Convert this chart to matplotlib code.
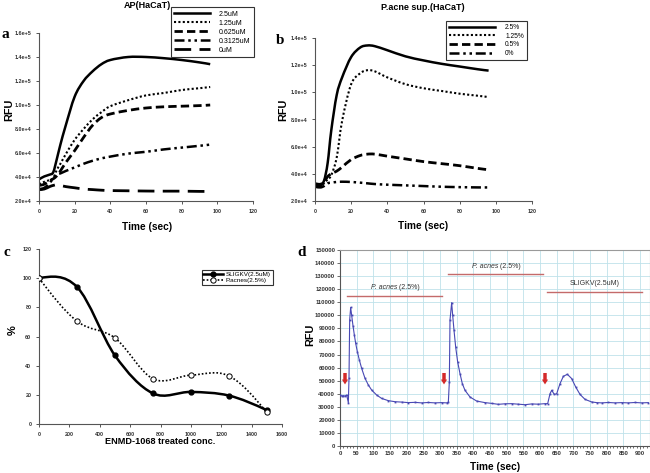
import numpy as np
import matplotlib
matplotlib.use('Agg')
import matplotlib.pyplot as plt
from matplotlib.path import Path
from matplotlib.patches import PathPatch
from matplotlib.lines import Line2D

plt.rcParams['font.family'] = ['Liberation Sans', 'DejaVu Sans']

# ---- panel a : AP(HaCaT) ----
a_time = [0, 3, 6, 8, 10, 12, 15, 20, 25, 30, 35, 40, 50, 60, 70, 80, 90, 96]
a_labels = ['2.5uM', '1.25uM', '0.625uM', '0.3125uM', '0uM']
a_25 = [3.8e4, 4.05e4, 4.2e4, 4.4e4, 5.5e4, 6.7e4, 8.3e4, 1.07e5, 1.2e5, 1.28e5, 1.34e5, 1.375e5,
        1.4e5, 1.4e5, 1.39e5, 1.375e5, 1.355e5, 1.34e5]
a_125 = [3.4e4, 3.6e4, 3.75e4, 3.9e4, 4.6e4, 5.1e4, 5.9e4, 7.1e4, 8.0e4, 8.8e4, 9.4e4, 9.9e4,
         1.04e5, 1.08e5, 1.1e5, 1.125e5, 1.14e5, 1.15e5]
a_0625 = [3.3e4, 3.4e4, 3.7e4, 3.85e4, 4.1e4, 4.5e4, 5.2e4, 6.2e4, 7.3e4, 8.3e4, 8.95e4, 9.25e4,
          9.55e4, 9.75e4, 9.85e4, 9.9e4, 9.95e4, 1.0e5]
a_03125 = [3.0e4, 3.1e4, 3.5e4, 3.9e4, 4.2e4, 4.3e4, 4.5e4, 4.8e4, 5.1e4, 5.35e4, 5.55e4, 5.7e4,
           5.95e4, 6.1e4, 6.3e4, 6.45e4, 6.6e4, 6.7e4]
a_0 = [2.95e4, 3.0e4, 3.2e4, 3.3e4, 3.35e4, 3.3e4, 3.2e4, 3.1e4, 3.0e4, 2.95e4, 2.9e4, 2.87e4,
       2.85e4, 2.83e4, 2.82e4, 2.82e4, 2.8e4, 2.8e4]

# ---- panel b : P.acne sup.(HaCaT) ----
b_time = [0, 3, 5, 7, 9, 12, 15, 20, 25, 29, 33, 40, 50, 60, 70, 80, 90, 96]
b_labels = ['2.5%', '1.25%', '0.5%', '0%']
b_25 = [3.3e4, 3.25e4, 3.5e4, 4.8e4, 7.2e4, 9.8e4, 1.11e5, 1.26e5, 1.33e5, 1.345e5, 1.34e5, 1.31e5,
        1.265e5, 1.235e5, 1.21e5, 1.19e5, 1.17e5, 1.16e5]
b_125 = [3.2e4, 3.1e4, 3.3e4, 3.6e4, 3.9e4, 5.2e4, 7.9e4, 1.06e5, 1.14e5, 1.163e5, 1.155e5, 1.11e5,
         1.06e5, 1.03e5, 1.01e5, 9.9e4, 9.75e4, 9.65e4]
b_05 = [3.2e4, 3.15e4, 3.4e4, 3.8e4, 4.0e4, 4.2e4, 4.5e4, 5.05e4, 5.35e4, 5.45e4, 5.45e4, 5.3e4,
        5.1e4, 4.9e4, 4.75e4, 4.6e4, 4.4e4, 4.3e4]
b_0 = [3.05e4, 3.0e4, 3.1e4, 3.3e4, 3.35e4, 3.4e4, 3.42e4, 3.4e4, 3.35e4, 3.3e4, 3.25e4, 3.2e4,
       3.15e4, 3.1e4, 3.05e4, 3.02e4, 3.0e4, 3.0e4]

# ---- panel c : ENMD-1068 ----
c_conc = [0, 250, 500, 750, 1000, 1250, 1500]
c_sligkv = [100, 94, 47, 21, 22, 19.5, 9.5]
c_pacnes = [100, 70.5, 59, 31, 33.5, 33, 8]

# ---- panel d : trace ----
d_time = [0, 5, 10, 15, 20, 25, 27, 29, 32, 35, 39, 43, 47, 52, 58, 65, 75, 85, 95, 110, 125, 145,
          165, 185, 205, 225, 245, 265, 285, 305, 320, 325, 328, 330, 335, 338, 342, 347, 353, 360,
          367, 375, 390, 410, 435, 455, 475, 495, 515, 535, 555, 575, 595, 615, 623, 630, 635, 643,
          650, 660, 670, 682, 695, 707, 720, 735, 755, 770, 785, 805, 825, 845, 865, 885, 905, 925]
d_rfu = [39000, 38300, 38500, 38200, 39000, 33200, 51800, 96400, 106000, 100000, 92000, 85000,
         78600, 72200, 65800, 59400, 51800, 46700, 42800, 39000, 36400, 34700, 33900, 33600, 33200,
         33400, 33000, 33300, 33000, 33200, 33000, 33500, 48900, 96400, 109700, 100000, 88600,
         75800, 64300, 55400, 47700, 42600, 37500, 34400, 33200, 32600, 31900, 32300, 32400, 32000,
         31600, 32200, 32000, 32400, 32400, 40000, 42600, 39500, 40000, 47700, 53300, 54900, 51600,
         45200, 39500, 35700, 33700, 33200, 33000, 33300, 33000, 33200, 33000, 33300, 33000, 33200]
d_arrow_t = [15, 312, 615]
d_bars = [(20, 307, 115000, 'P. acnes', ' (2.5%)'),
          (325, 610, 131500, 'P. acnes', ' (2.5%)'),
          (622, 907, 118000, '', 'SLIGKV(2.5uM)')]


def smooth_path(x, y):
    # Excel-like smoothed line: Catmull-Rom segments as cubic Beziers
    p = np.column_stack([x, y]).astype(float)
    n = len(p)
    verts = [p[0]]
    codes = [Path.MOVETO]
    for i in range(n - 1):
        prev = p[i - 1] if i > 0 else p[i]
        nxt = p[i + 2] if i + 2 < n else p[i + 1]
        c1 = p[i] + (p[i + 1] - prev) / 6
        c2 = p[i + 1] - (nxt - p[i]) / 6
        if i == 0:
            c1 = p[0] + (c2 - p[0]) / 2
        if i == n - 2:
            c2 = p[-1] + (c1 - p[-1]) / 2
        verts += [c1, c2, p[i + 1]]
        codes += [Path.CURVE4] * 3
    return Path(verts, codes)


def fx(px):
    return px / 650


def fy(py):
    return 1 - py / 473


def excel_axes(ax):
    for s in ['top', 'right']:
        ax.spines[s].set_visible(False)
    for s in ['left', 'bottom']:
        ax.spines[s].set_color('#555555')
        ax.spines[s].set_linewidth(0.8)
    ax.tick_params(labelsize=3.9, length=2.5, width=0.7, color='#555555', pad=3)
    for lab in ax.get_xticklabels() + ax.get_yticklabels():
        lab.set_fontweight('bold')
        lab.set_color('#333333')


def sci(v, pos):
    mant, ex = ('%.1e' % v).split('e')
    return '%se+%d' % (mant, int(ex))


fig = plt.figure(figsize=(6.5, 4.73), dpi=100)

styles_a = [dict(ls='-', lw=1.8), dict(ls=(0, (1, 1.1)), lw=1.5), dict(ls=(0, (3, 1.5)), lw=2.0),
            dict(ls=(0, (4, 1.5, 1, 1.5, 1, 1.5)), lw=1.8), dict(ls=(0, (6, 3)), lw=2.0)]
styles_b = [styles_a[0], styles_a[1], styles_a[2], styles_a[3]]

# panel a
ax_a = fig.add_axes([fx(39), fy(201), fx(253) - fx(39), fy(33) - fy(201)])
for vals, st in zip([a_25, a_125, a_0625, a_03125, a_0], styles_a):
    ax_a.add_patch(PathPatch(smooth_path(a_time, vals), facecolor='none', edgecolor='k',
                             linestyle=st['ls'], lw=st['lw']))
ax_a.set_xlim(0, 120)
ax_a.set_ylim(2e4, 1.6e5)
ax_a.set_xticks(range(0, 121, 20))
ax_a.set_yticks(np.arange(2e4, 1.61e5, 2e4))
ax_a.yaxis.set_major_formatter(plt.FuncFormatter(sci))
excel_axes(ax_a)
h = [Line2D([], [], color='k', linestyle=st['ls'], lw=st['lw']) for st in styles_a]
leg = ax_a.legend(h, a_labels, loc='upper right', bbox_to_anchor=(1.02, 1.175), fontsize=5,
                  fancybox=False, edgecolor='#333333', handlelength=5.2, labelspacing=0.3,
                  borderpad=0.5, handletextpad=1.2, framealpha=1)
leg.get_frame().set_linewidth(0.8)

# panel b
ax_b = fig.add_axes([fx(315), fy(201), fx(532) - fx(315), fy(38) - fy(201)])
for vals, st in zip([b_25, b_125, b_05, b_0], styles_b):
    ax_b.add_patch(PathPatch(smooth_path(b_time, vals), facecolor='none', edgecolor='k',
                             linestyle=st['ls'], lw=st['lw']))
ax_b.set_xlim(0, 120)
ax_b.set_ylim(2e4, 1.4e5)
ax_b.set_xticks(range(0, 121, 20))
ax_b.set_yticks(np.arange(2e4, 1.41e5, 2e4))
ax_b.yaxis.set_major_formatter(plt.FuncFormatter(sci))
excel_axes(ax_b)
h = [Line2D([], [], color='k', linestyle=st['ls'], lw=st['lw']) for st in styles_b]
leg = ax_b.legend(h, b_labels, loc='upper right', bbox_to_anchor=(0.992, 1.125), fontsize=4.8,
                  fancybox=False, edgecolor='#333333', handlelength=7.0, labelspacing=0.25,
                  borderpad=0.45, handletextpad=1.5, framealpha=1)
leg.get_frame().set_linewidth(0.8)

# panel c
ax_c = fig.add_axes([fx(39), fy(424), fx(282) - fx(39), fy(249) - fy(424)])
ax_c.add_patch(PathPatch(smooth_path(c_conc, c_sligkv), facecolor='none', edgecolor='k', lw=1.8))
ax_c.add_patch(PathPatch(smooth_path(c_conc, c_pacnes), facecolor='none', edgecolor='k', lw=1.2,
                         linestyle=(0, (1, 1.2))))
ax_c.plot(c_conc, c_sligkv, 'o', color='k', ms=3.5, zorder=3)
ax_c.plot(c_conc, c_pacnes, 'o', mfc='white', mec='k', mew=0.7, ms=3.8, zorder=3)
ax_c.set_xlim(0, 1600)
ax_c.set_ylim(0, 120)
ax_c.set_xticks(range(0, 1601, 200))
ax_c.set_yticks(range(0, 121, 20))
excel_axes(ax_c)
h = [Line2D([], [], color='k', lw=1.8, marker='o', ms=3.5),
     Line2D([], [], color='k', lw=1.2, ls=(0, (1, 1.2)), marker='o', mfc='white', ms=3.8, mew=0.7)]
leg = ax_c.legend(h, ['SLIGKV(2.5uM)', 'P.acnes(2.5%)'], loc='upper right',
                  bbox_to_anchor=(0.975, 0.9), fontsize=4.6, fancybox=False, edgecolor='#333333',
                  handlelength=3, labelspacing=0.1, borderpad=0.3, handletextpad=0.5,
                  framealpha=1)
leg.get_frame().set_linewidth(0.8)

# panel d
ax_d = fig.add_axes([fx(340), fy(446), 1 - fx(340), fy(250) - fy(446)])
ax_d.plot(d_time, d_rfu, '-', color='#4848b4', lw=0.8, marker='s', ms=1.3, mew=0, zorder=3)
ax_d.set_xlim(0, 930)
ax_d.set_ylim(0, 150000)
ax_d.set_xticks(range(0, 901, 50))
ax_d.set_xticks(range(0, 931, 10), minor=True)
ax_d.set_yticks(range(0, 150001, 10000))
ax_d.grid(True, color='#bfe2ea', lw=0.6)
ax_d.set_axisbelow(True)
for s in ax_d.spines.values():
    s.set_color('#9a9a9a')
    s.set_linewidth(0.8)
ax_d.spines['left'].set_color('#555555')
ax_d.spines['bottom'].set_color('#555555')
ax_d.tick_params(labelsize=4.2, length=2, width=0.6, color='#555555', pad=1.5)
ax_d.tick_params(which='minor', length=1.2, width=0.4)
for lab in ax_d.get_xticklabels() + ax_d.get_yticklabels():
    lab.set_fontweight('bold')
    lab.set_color('#333333')
for t in d_arrow_t:
    ax_d.annotate('', xy=(t, 45000), xytext=(t, 58000),
                  arrowprops=dict(arrowstyle='simple,head_width=0.45,head_length=0.35,tail_width=0.25',
                                  color='#d42a2a', lw=0))
for t0, t1, yv, it, rest in d_bars:
    ax_d.plot([t0, t1], [yv, yv], color='#c46a6a', lw=1.0)
    xm = (t0 + t1) / 2
    if it:
        ax_d.text(xm + 8, yv + 3500, it, fontsize=5, fontstyle='italic', ha='right', va='bottom',
                  color='#333333')
        ax_d.text(xm + 8, yv + 3500, rest, fontsize=5, ha='left', va='bottom', color='#333333')
    else:
        ax_d.text(xm, yv + 3500, rest, fontsize=5, ha='center', va='bottom', color='#333333')

# titles, labels, panel letters
fig.text(fx(147), fy(6), 'AP(HaCaT)', fontsize=6.5, fontweight='bold', ha='center', va='center')
fig.text(fx(423), fy(8), 'P.acne sup.(HaCaT)', fontsize=6.5, fontweight='bold', ha='center',
         va='center')
for xp, yp, s in [(5, 34, 'a'), (280, 40, 'b'), (7, 252, 'c'), (302, 252, 'd')]:
    fig.text(fx(xp), fy(yp), s, fontsize=11, fontweight='bold', family='Liberation Serif',
             ha='center', va='center')
for xp, yp in [(9, 110), (283, 110), (310, 335)]:
    fig.text(fx(xp), fy(yp), 'RFU', fontsize=7.8, fontweight='bold', rotation=90, ha='center',
             va='center')
fig.text(fx(13), fy(330), '%', fontsize=8, fontweight='bold', rotation=90, ha='center', va='center')
for xp, yp in [(147, 227), (423, 226), (495, 467)]:
    fig.text(fx(xp), fy(yp), 'Time (sec)', fontsize=7.3, fontweight='bold', ha='center', va='center')
fig.text(fx(160), fy(441), 'ENMD-1068 treated conc.', fontsize=6.6, fontweight='bold', ha='center',
         va='center')

fig.savefig('out.png', dpi=100)
